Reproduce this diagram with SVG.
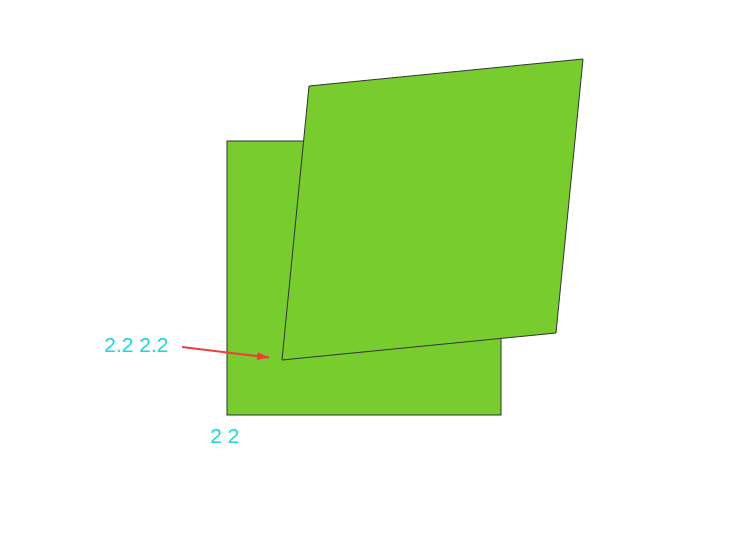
<svg xmlns="http://www.w3.org/2000/svg" width="755" height="543" viewBox="0 0 755 543">
<style>
.shape{fill:#78cc2e;stroke:#333;stroke-width:1}
.lbl{font-family:"Liberation Sans",Arial,sans-serif;font-size:21px;fill:#22d8d8}
</style>
<defs>
<marker id="ah" viewBox="0 0 10 10" refX="10" refY="5" markerWidth="12" markerHeight="8" markerUnits="userSpaceOnUse" orient="auto" preserveAspectRatio="none">
<path d="M0,0 L10,5 L0,10 z" fill="#f03c3c"/>
</marker>
</defs>
<rect width="755" height="543" fill="#fff"/>
<g id="square"><rect class="shape" x="227" y="141" width="274" height="274"/></g>
<g id="parallelogram"><polygon class="shape" points="309,86 583,59 556,333 282,360"/></g>
<g id="connectors"><line x1="182" y1="347" x2="269" y2="357.5" stroke="#f03c3c" stroke-width="2" marker-end="url(#ah)"/></g>
<g id="labels">
<text class="lbl" x="104" y="352">2.2 2.2</text>
<text class="lbl" x="210" y="443">2 2</text>
</g>
</svg>
